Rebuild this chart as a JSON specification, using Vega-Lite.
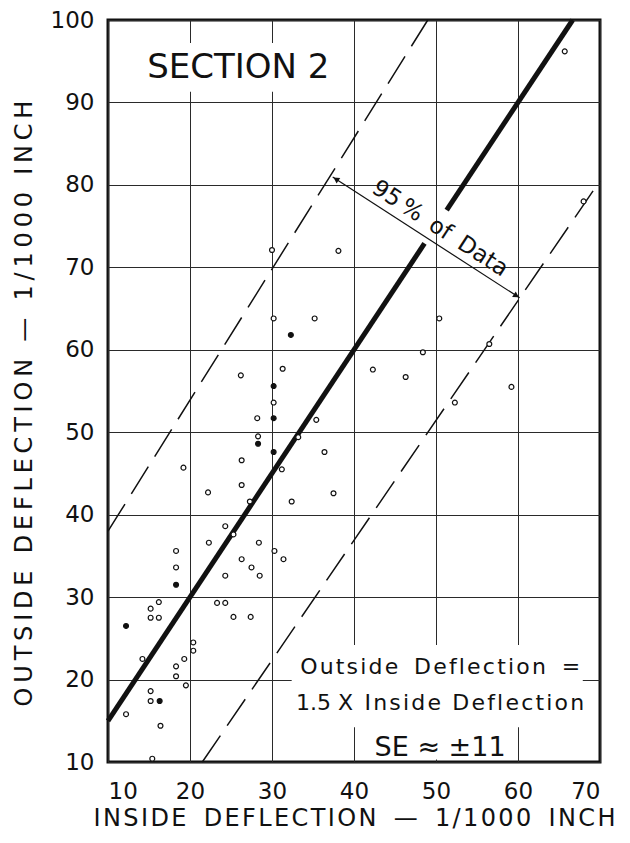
{
  "$schema": "https://vega.github.io/schema/vega-lite/v6.json",
  "width": 492,
  "height": 742,
  "autosize": {"type": "none"},
  "padding": {"left": 108, "top": 20, "right": 30, "bottom": 81},
  "background": "white",
  "config": {
    "view": {"stroke": "#111", "strokeWidth": 3},
    "font": "DejaVu Sans",
    "axis": {
      "domain": false,
      "ticks": false,
      "grid": true,
      "gridColor": "#2a2a2a",
      "gridWidth": 1,
      "gridOpacity": 1,
      "labelFont": "DejaVu Sans",
      "labelFontSize": 23,
      "labelColor": "#111",
      "titleFont": "DejaVu Sans",
      "titleFontSize": 24,
      "titleFontWeight": "normal",
      "titleColor": "#111"
    }
  },
  "datasets": {
    "points": [
      {"inside": 65.7, "outside": 96.2, "kind": "open"},
      {"inside": 68, "outside": 78, "kind": "open"},
      {"inside": 30, "outside": 72.1, "kind": "open"},
      {"inside": 38.1, "outside": 72, "kind": "open"},
      {"inside": 30.2, "outside": 63.8, "kind": "open"},
      {"inside": 35.2, "outside": 63.8, "kind": "open"},
      {"inside": 50.4, "outside": 63.8, "kind": "open"},
      {"inside": 32.3, "outside": 61.8, "kind": "solid"},
      {"inside": 48.4, "outside": 59.7, "kind": "open"},
      {"inside": 56.5, "outside": 60.7, "kind": "open"},
      {"inside": 31.3, "outside": 57.7, "kind": "open"},
      {"inside": 42.3, "outside": 57.6, "kind": "open"},
      {"inside": 26.2, "outside": 56.9, "kind": "open"},
      {"inside": 46.3, "outside": 56.7, "kind": "open"},
      {"inside": 30.2, "outside": 55.6, "kind": "solid"},
      {"inside": 59.2, "outside": 55.5, "kind": "open"},
      {"inside": 30.2, "outside": 53.6, "kind": "open"},
      {"inside": 52.3, "outside": 53.6, "kind": "open"},
      {"inside": 28.2, "outside": 51.7, "kind": "open"},
      {"inside": 30.2, "outside": 51.7, "kind": "solid"},
      {"inside": 35.4, "outside": 51.5, "kind": "open"},
      {"inside": 28.3, "outside": 49.5, "kind": "open"},
      {"inside": 33.2, "outside": 49.4, "kind": "open"},
      {"inside": 28.3, "outside": 48.6, "kind": "solid"},
      {"inside": 30.2, "outside": 47.6, "kind": "solid"},
      {"inside": 36.4, "outside": 47.6, "kind": "open"},
      {"inside": 26.3, "outside": 46.6, "kind": "open"},
      {"inside": 19.2, "outside": 45.7, "kind": "open"},
      {"inside": 31.2, "outside": 45.5, "kind": "open"},
      {"inside": 26.3, "outside": 43.6, "kind": "open"},
      {"inside": 22.2, "outside": 42.7, "kind": "open"},
      {"inside": 37.5, "outside": 42.6, "kind": "open"},
      {"inside": 27.3, "outside": 41.6, "kind": "open"},
      {"inside": 32.4, "outside": 41.6, "kind": "open"},
      {"inside": 24.3, "outside": 38.6, "kind": "open"},
      {"inside": 25.3, "outside": 37.6, "kind": "open"},
      {"inside": 22.3, "outside": 36.6, "kind": "open"},
      {"inside": 28.4, "outside": 36.6, "kind": "open"},
      {"inside": 18.3, "outside": 35.6, "kind": "open"},
      {"inside": 30.3, "outside": 35.6, "kind": "open"},
      {"inside": 26.3, "outside": 34.6, "kind": "open"},
      {"inside": 31.4, "outside": 34.6, "kind": "open"},
      {"inside": 27.5, "outside": 33.6, "kind": "open"},
      {"inside": 18.3, "outside": 33.6, "kind": "open"},
      {"inside": 24.3, "outside": 32.6, "kind": "open"},
      {"inside": 28.5, "outside": 32.6, "kind": "open"},
      {"inside": 18.3, "outside": 31.5, "kind": "solid"},
      {"inside": 16.2, "outside": 29.4, "kind": "open"},
      {"inside": 23.3, "outside": 29.3, "kind": "open"},
      {"inside": 24.3, "outside": 29.3, "kind": "open"},
      {"inside": 15.2, "outside": 28.6, "kind": "open"},
      {"inside": 15.2, "outside": 27.5, "kind": "open"},
      {"inside": 16.2, "outside": 27.5, "kind": "open"},
      {"inside": 25.3, "outside": 27.6, "kind": "open"},
      {"inside": 27.4, "outside": 27.6, "kind": "open"},
      {"inside": 12.2, "outside": 26.5, "kind": "solid"},
      {"inside": 20.4, "outside": 24.5, "kind": "open"},
      {"inside": 20.4, "outside": 23.5, "kind": "open"},
      {"inside": 14.2, "outside": 22.5, "kind": "open"},
      {"inside": 19.3, "outside": 22.5, "kind": "open"},
      {"inside": 18.3, "outside": 21.6, "kind": "open"},
      {"inside": 18.3, "outside": 20.4, "kind": "open"},
      {"inside": 19.5, "outside": 19.3, "kind": "open"},
      {"inside": 15.2, "outside": 18.6, "kind": "open"},
      {"inside": 15.2, "outside": 17.4, "kind": "open"},
      {"inside": 16.3, "outside": 17.4, "kind": "solid"},
      {"inside": 12.2, "outside": 15.8, "kind": "open"},
      {"inside": 16.4, "outside": 14.4, "kind": "open"},
      {"inside": 15.4, "outside": 10.4, "kind": "open"}
    ],
    "fitLine": [
      {"seg": "a", "inside": 10, "outside": 15, "i": 0},
      {"seg": "a", "inside": 48.6, "outside": 72.9, "i": 1},
      {"seg": "b", "inside": 51.3, "outside": 76.95, "i": 0},
      {"seg": "b", "inside": 66.67, "outside": 100, "i": 1}
    ],
    "bandLines": [
      {"seg": "upper", "inside": 10, "outside": 38, "i": 0},
      {"seg": "upper", "inside": 49, "outside": 100, "i": 1},
      {"seg": "lower", "inside": 21.5, "outside": 10, "i": 0},
      {"seg": "lower", "inside": 70, "outside": 80.5, "i": 1}
    ],
    "arrow": [
      {"inside": 37.4, "outside": 80.95, "i": 0},
      {"inside": 60.2, "outside": 66.3, "i": 1}
    ],
    "arrowHeads": [
      {"inside": 59.8, "outside": 66.55, "head": "triangle-right"},
      {"inside": 37.8, "outside": 80.7, "head": "triangle-left"}
    ],
    "boxes": [
      {"x1": 13, "x2": 39.5, "y1": 91.3, "y2": 97.2},
      {"x1": 32.4, "x2": 67.9, "y1": 14.2, "y2": 24.2},
      {"x1": 40.8, "x2": 59.3, "y1": 10.3, "y2": 14.3}
    ],
    "notes": [
      {"inside": 25.9, "outside": 94.2, "text": "SECTION 2", "size": 34},
      {"inside": 50.5, "outside": 21.5, "text": "O\u200au\u200at\u200as\u200ai\u200ad\u200ae\u2009 \u2009D\u200ae\u200af\u200al\u200ae\u200ac\u200at\u200ai\u200ao\u200an\u2009 \u2009=", "size": 22},
      {"inside": 50.5, "outside": 17.2, "text": "1.5 X\u2009 I\u200an\u200as\u200ai\u200ad\u200ae \u2009D\u200ae\u200af\u200al\u200ae\u200ac\u200at\u200ai\u200ao\u200an", "size": 22},
      {"inside": 50.5, "outside": 11.65, "text": "SE ≈ ±11", "size": 27}
    ]
  },
  "encoding": {
    "x": {
      "field": "inside",
      "type": "quantitative",
      "scale": {"domain": [10, 70], "nice": false, "zero": false},
      "axis": {
        "values": [10, 20, 30, 40, 50, 60, 70],
        "title": "I\u200aN\u200aS\u200aI\u200aD\u200aE\u2009 \u2009D\u200aE\u200aF\u200aL\u200aE\u200aC\u200aT\u200aI\u200aO\u200aN\u2009 \u2009—\u2009 \u20091\u200a/\u200a1\u200a0\u200a0\u200a0\u2009 \u2009I\u200aN\u200aC\u200aH",
        "labelPadding": 18,
        "titlePadding": 3
      }
    },
    "y": {
      "field": "outside",
      "type": "quantitative",
      "scale": {"domain": [10, 100], "nice": false, "zero": false},
      "axis": {
        "values": [10, 20, 30, 40, 50, 60, 70, 80, 90, 100],
        "title": "O\u2009U\u2009T\u2009S\u2009I\u2009D\u2009E\u2009 \u2009D\u2009E\u2009F\u2009L\u2009E\u2009C\u2009T\u2009I\u2009O\u2009N\u2009 \u2009—\u2009 \u20091\u2009/\u20091\u20090\u20090\u20090\u2009 \u2009I\u2009N\u2009C\u2009H",
        "labelPadding": 14,
        "titlePadding": 14,
        "titleY": 383
      }
    }
  },
  "layer": [
    {
      "data": {"name": "boxes"},
      "mark": {"type": "rect", "fill": "white", "stroke": null},
      "encoding": {
        "x": {"field": "x1", "type": "quantitative"},
        "x2": {"field": "x2"},
        "y": {"field": "y1", "type": "quantitative"},
        "y2": {"field": "y2"}
      }
    },
    {
      "data": {"name": "bandLines"},
      "mark": {"type": "line", "color": "#111", "strokeWidth": 1.5, "strokeDash": [32, 12]},
      "encoding": {
        "detail": {"field": "seg"},
        "order": {"field": "i"}
      }
    },
    {
      "data": {"name": "fitLine"},
      "mark": {"type": "line", "color": "#111", "strokeWidth": 5, "strokeCap": "butt"},
      "encoding": {
        "detail": {"field": "seg"},
        "order": {"field": "i"}
      }
    },
    {
      "data": {"name": "arrow"},
      "mark": {"type": "line", "color": "#111", "strokeWidth": 1.2},
      "encoding": {"order": {"field": "i"}}
    },
    {
      "data": {"name": "arrowHeads"},
      "mark": {"type": "point", "filled": true, "color": "#111", "size": 45, "angle": 33, "opacity": 1},
      "encoding": {
        "shape": {"field": "head", "type": "nominal", "scale": null}
      }
    },
    {
      "data": {"name": "points"},
      "mark": {"type": "point", "shape": "circle", "size": 24, "strokeWidth": 1.2, "stroke": "#111", "opacity": 1},
      "encoding": {
        "fill": {
          "field": "kind",
          "type": "nominal",
          "scale": {"domain": ["open", "solid"], "range": ["white", "#111"]},
          "legend": null
        }
      }
    },
    {
      "data": {"name": "notes"},
      "mark": {"type": "text", "align": "center", "baseline": "middle", "color": "#111", "font": "DejaVu Sans"},
      "encoding": {
        "text": {"field": "text"},
        "size": {"field": "size", "type": "quantitative", "scale": null}
      }
    },
    {
      "data": {"values": [{"inside": 50.5, "outside": 74.7, "text": "95\u2009%\u2009 of\u2009 Data"}]},
      "mark": {"type": "text", "align": "center", "baseline": "middle", "angle": 33, "fontSize": 23, "color": "#111", "font": "DejaVu Sans"},
      "encoding": {"text": {"field": "text"}}
    }
  ]
}
